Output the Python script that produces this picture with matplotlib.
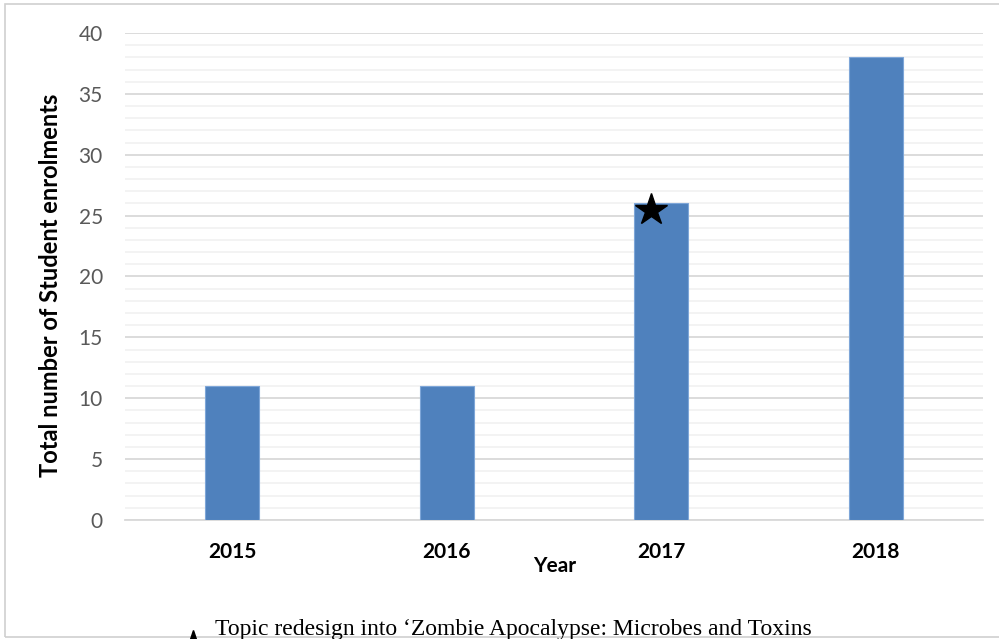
import matplotlib
matplotlib.use("Agg")
import matplotlib.pyplot as plt
from matplotlib.lines import Line2D
from matplotlib.patches import Rectangle

# -- data -----------------------------------------------------------------------
years      = ["2015", "2016", "2017", "2018"]
enrolments = [11, 11, 26, 38]
star_year  = 2      # index of the redesigned year (2017)
star_value = 25.5
note_text  = "Topic redesign into \u2018Zombie Apocalypse: Microbes and Toxins"

BAR_COLOR = "#4f81bd"
MAJOR     = "#d9d9d9"
MINOR     = "#f2f2f2"

plt.rcParams["font.family"] = ["Lato", "DejaVu Sans"]

fig = plt.figure(figsize=(9.99, 6.39), dpi=100)
ax = fig.add_axes([0.1251, 0.1862, 0.8589, 0.7622])

x = list(range(len(years)))
ax.bar(x, enrolments, width=0.25, color=BAR_COLOR, edgecolor="#7ea6d8",
       linewidth=0.8, zorder=3)
ax.plot(star_year - 0.05, star_value, marker="*", markersize=24,
        color="black", zorder=4)

ax.set_xlim(-0.5, len(years) - 0.5)
ax.set_ylim(0, 40)
ax.set_yticks(range(0, 41, 5))
ax.set_yticks(range(0, 41, 1), minor=True)
ax.grid(axis="y", which="major", color=MAJOR, linewidth=1.3, zorder=0)
ax.grid(axis="y", which="minor", color=MINOR, linewidth=1.3, zorder=0)

ax.set_xticks(x)
ax.set_xticklabels(years, fontsize=15, fontweight="bold", color="black")
ax.tick_params(axis="x", length=0, pad=16)
ax.tick_params(axis="y", which="both", length=0, labelsize=15,
               labelcolor="#595959", pad=16)

for side in ["top", "right", "left"]:
    ax.spines[side].set_visible(False)
ax.spines["bottom"].set_color(MAJOR)
ax.spines["bottom"].set_linewidth(1.3)

ax.set_ylabel("Total number of Student enrolments", fontsize=17,
              fontweight="bold")
ax.yaxis.set_label_coords(-0.073, 0.482)
fig.text(0.555, 0.114, "Year", fontsize=15, fontweight="bold",
         ha="center", va="center")

# document frame and footnote
fig.add_artist(Rectangle((0.005, 0.003), 1.2, 0.99, transform=fig.transFigure,
                         fill=False, edgecolor="#d0d0d0", linewidth=1.2))
fig.text(0.215, 0.006, note_text, fontsize=17,
         family=["Liberation Serif", "DejaVu Serif"], ha="left",
         va="baseline")
fig.add_artist(Line2D([0.193], [-0.012], marker="*", markersize=24,
                      color="black", transform=fig.transFigure))

fig.savefig("out.png", dpi=100)
